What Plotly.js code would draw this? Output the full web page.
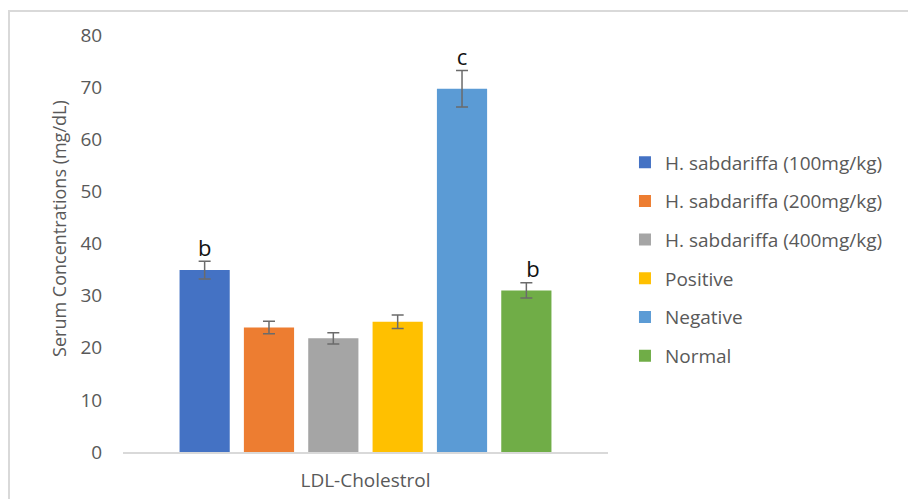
<!DOCTYPE html>
<html>
<head>
<meta charset="utf-8">
<script src="https://cdn.plot.ly/plotly-3.0.1.min.js"></script>
<style>
  html, body { margin: 0; padding: 0; background: #fff; }
  #chart { width: 908px; height: 499px; position: absolute; left: 0; top: 0; }
  #frame { position: absolute; left: 8px; top: 10px; width: 1000px; height: 600px;
           border: 2px solid #d9d9d9; pointer-events: none; }
</style>
</head>
<body>
<div id="chart"></div>
<div id="frame"></div>
<script>
// ---- data ----
const category = ["LDL-Cholestrol"];
const groups = ["H. sabdariffa (100mg/kg)", "H. sabdariffa (200mg/kg)", "H. sabdariffa (400mg/kg)", "Positive", "Negative", "Normal"];
const means = [34.9, 23.9, 21.8, 25.0, 69.7, 31.0];
const errors = [1.7, 1.2, 1.1, 1.3, 3.5, 1.45];
const letters = ["b", "", "", "", "c", "b"];
const colors = ["#4472C4", "#ED7D31", "#A5A5A5", "#FFC000", "#5B9BD5", "#70AD47"];
const yTitle = "Serum Concentrations (mg/dL)";

const FONT = "Open Sans, sans-serif";
const GREY = "#595959";
const letterPos = ["top center", "top center", "top center", "top center", "top center", "top right"];

const traces = [];
groups.forEach((g, i) => {
  traces.push({
    type: "bar",
    name: g,
    x: category,
    y: [means[i]],
    offsetgroup: "g" + i,
    alignmentgroup: "a",
    legendgroup: "g" + i,
    marker: { color: colors[i], line: { width: 0 } },
    error_y: { type: "data", array: [errors[i]], visible: true, color: "#6b6b6b", thickness: 1.5, width: 6 },
    hoverinfo: "skip"
  });
});
groups.forEach((g, i) => {
  traces.push({
    type: "scatter",
    mode: "text",
    x: category,
    y: [means[i] + errors[i]],
    text: [letters[i]],
    textposition: letterPos[i],
    textfont: { family: FONT, size: 22, color: "#111111" },
    offsetgroup: "g" + i,
    alignmentgroup: "a",
    legendgroup: "g" + i,
    showlegend: false,
    hoverinfo: "skip"
  });
});

const layout = {
  width: 908,
  height: 499,
  paper_bgcolor: "#ffffff",
  plot_bgcolor: "#ffffff",
  margin: { l: 123, r: 300, t: 35, b: 47 },
  barmode: "group",
  scattermode: "group",
  bargap: 0.204,
  bargroupgap: 0.22,
  scattergap: 0.204,
  font: { family: FONT, size: 18, color: GREY },
  xaxis: {
    type: "category",
    showline: true,
    linecolor: "#d9d9d9",
    linewidth: 1.5,
    showgrid: false,
    zeroline: false,
    ticks: "outside",
    ticklen: 11,
    tickcolor: "rgba(0,0,0,0)",
    tickfont: { family: FONT, size: 19, color: GREY }
  },
  yaxis: {
    range: [0, 80],
    dtick: 10,
    showgrid: false,
    zeroline: false,
    showline: false,
    ticks: "outside",
    ticklen: 16,
    tickcolor: "rgba(0,0,0,0)",
    tickfont: { family: FONT, size: 19, color: GREY }
  },
  annotations: [{
    text: yTitle,
    xref: "paper", yref: "paper",
    x: 0, y: 0.535,
    xanchor: "center", yanchor: "middle",
    xshift: -64,
    textangle: -90,
    showarrow: false,
    font: { family: FONT, size: 18, color: GREY }
  }],
  legend: {
    x: 1.035,
    xanchor: "left",
    y: 0.462,
    yanchor: "middle",
    traceorder: "grouped",
    tracegroupgap: 11,
    font: { family: FONT, size: 19, color: GREY },
    bgcolor: "rgba(0,0,0,0)",
    borderwidth: 0
  },
  showlegend: true
};

Plotly.newPlot("chart", traces, layout, { displayModeBar: false, staticPlot: true });
</script>
</body>
</html>
